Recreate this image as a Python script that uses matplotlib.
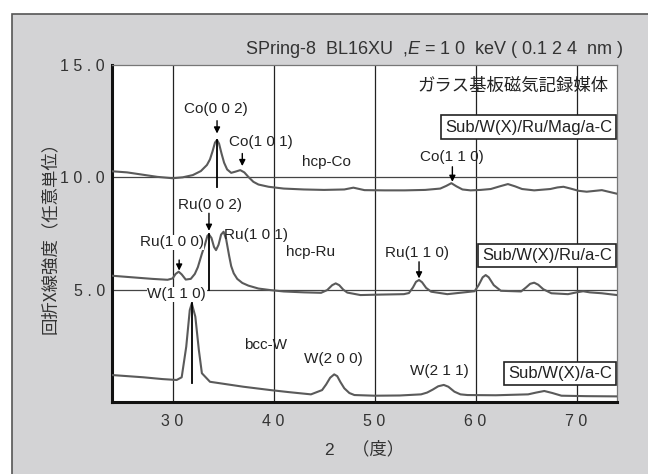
import matplotlib
matplotlib.use("Agg")
import matplotlib.pyplot as plt
from matplotlib.patches import Rectangle

plt.rcParams['font.family'] = ['Liberation Sans', 'Noto Sans CJK JP', 'DejaVu Sans']
plt.rcParams['mathtext.fontset'] = 'custom'
plt.rcParams['mathtext.it'] = 'Liberation Sans:italic'
plt.rcParams['mathtext.rm'] = 'Liberation Sans'

# --- data ---
mag_x = [24.0, 25.5, 27.0, 28.5, 30.0, 31.0, 32.0, 32.8, 33.4, 33.7, 33.95, 34.2, 34.4, 34.6,
         34.85, 35.1, 35.4, 35.8, 36.2, 36.7, 37.1, 37.5, 38.0, 38.5, 39.5, 41.0, 43.0, 45.0,
         47.0, 47.9, 49.0, 51.0, 53.0, 55.0, 56.5, 57.1, 57.6, 58.1, 58.7, 59.5, 60.5, 61.5,
         62.4, 63.2, 63.9, 64.6, 65.8, 67.4, 68.1, 68.7, 69.4, 70.2, 71.0, 72.5, 74.0]
mag_y = [10.27, 10.22, 10.12, 10.02, 9.96, 10.0, 10.1, 10.28, 10.55, 10.8, 11.15, 11.55, 11.66,
         11.5, 11.05, 10.65, 10.35, 10.2, 10.25, 10.32, 10.22, 10.02, 9.8, 9.68, 9.58, 9.5,
         9.46, 9.44, 9.46, 9.54, 9.43, 9.42, 9.42, 9.44, 9.5, 9.62, 9.74, 9.6, 9.46, 9.42, 9.44,
         9.48, 9.6, 9.7, 9.6, 9.48, 9.42, 9.48, 9.55, 9.58, 9.5, 9.4, 9.36, 9.43, 9.27]

ru_x = [24.0, 26.0, 28.0, 29.5, 30.0, 30.3, 30.6, 30.9, 31.3, 31.8, 32.2, 32.5, 32.9, 33.2,
        33.45, 33.6, 33.85, 34.1, 34.3, 34.55, 34.8, 35.05, 35.3, 35.6, 35.8, 36.05, 36.4, 36.9,
        37.5, 38.5, 39.7, 41.0, 43.0, 44.7, 45.3, 45.8, 46.15, 46.5, 46.9, 47.3, 48.6, 50.5,
        52.9, 53.4, 53.8, 54.1, 54.4, 54.7, 55.1, 55.6, 57.2, 59.9, 60.3, 60.7, 61.0, 61.3,
        61.8, 62.5, 64.5, 65.0, 65.4, 65.8, 66.2, 66.7, 67.5, 69.15, 70.0, 70.65, 71.3, 72.5,
        74.0]
ru_y = [5.62, 5.55, 5.48, 5.44, 5.5, 5.7, 5.8, 5.68, 5.45, 5.48, 5.7, 6.0, 6.6, 7.0, 7.4, 7.46,
        7.3, 6.9, 6.76, 7.0, 7.45, 7.58, 7.25, 6.5, 6.05, 5.73, 5.48, 5.3, 5.18, 5.05, 4.98,
        4.92, 4.88, 4.86, 4.98, 5.2, 5.28, 5.2, 5.0, 4.87, 4.76, 4.78, 4.8, 4.85, 5.1, 5.35,
        5.43, 5.33, 5.08, 4.91, 4.8, 4.93, 5.2, 5.55, 5.65, 5.55, 5.2, 4.95, 4.92, 5.1, 5.26,
        5.31, 5.22, 5.02, 4.84, 4.8, 4.88, 4.93, 4.88, 4.84, 4.76]

w_x = [24.0, 27.1, 29.0, 30.4, 30.9, 31.35, 31.7, 31.9, 32.25, 32.6, 32.9, 33.7, 35.5, 37.0,
       39.7, 41.5, 43.7, 44.8, 45.2, 45.6, 46.0, 46.3, 46.6, 47.0, 47.5, 48.0, 50.0, 52.5, 54.6,
       55.2, 55.75, 56.3, 56.85, 57.3, 57.9, 58.5, 59.2, 62.0, 65.2, 66.0, 66.8, 67.6, 68.5,
       71.0, 74.0]
w_y = [1.2, 1.1, 1.02, 0.98, 1.1, 2.46, 4.09, 4.39, 3.8, 2.31, 1.28, 0.9, 0.78, 0.68, 0.53,
       0.44, 0.34, 0.53, 0.78, 1.08, 1.23, 1.15, 0.9, 0.61, 0.4, 0.31, 0.28, 0.29, 0.34, 0.42,
       0.55, 0.7, 0.76, 0.68, 0.46, 0.34, 0.31, 0.3, 0.34, 0.42, 0.49, 0.4, 0.28, 0.26, 0.25]

x_ticks = [30, 40, 50, 60, 70]
x_ticklabels = ["3 0", "4 0", "5 0", "6 0", "7 0"]
y_ticks = [5, 10, 15]
y_ticklabels = ["5 . 0", "1 0 . 0", "1 5 . 0"]

# peak labels: text, x, y, arrow x, arrow top, arrow tip
peak_labels = [
    ("Co(0 0 2)", 34.3, 13.04, 34.4, 12.52, 11.95),
    ("Co(1 0 1)", 38.7, 11.56, 36.9, 11.06, 10.5),
    ("Co(1 1 0)", 57.7, 10.92, 57.7, 10.47, 9.8),
    ("Ru(0 0 2)", 33.7, 8.77, 33.6, 8.40, 7.62),
    ("Ru(1 0 0)", 29.9, 7.10, 30.65, 6.32, 5.85),
    ("Ru(1 1 0)", 54.2, 6.62, 54.4, 6.24, 5.5),
]
plain_labels = [
    ("Ru(1 0 1)", 38.3, 7.43),
    ("hcp-Co", 45.2, 10.7),
    ("hcp-Ru", 43.7, 6.69),
    ("bcc-W", 39.2, 2.54),
    ("W(2 0 0)", 45.9, 1.9),
    ("W(2 1 1)", 56.45, 1.39),
]
# vertical marker lines: x, bottom, top
marker_lines = [(34.4, 9.55, 11.66), (33.6, 5.0, 7.46), (31.9, 0.83, 4.39)]
sample_boxes = [("Sub/W(X)/Ru/Mag/a-C", 12.24), ("Sub/W(X)/Ru/a-C", 6.52), ("Sub/W(X)/a-C", 1.27)]

fig = plt.figure(figsize=(6.48, 4.74), dpi=100, facecolor='white')
fig.patches.append(Rectangle((12 / 648, -0.05), 1.1, 1.035 - 7 / 474, transform=fig.transFigure,
                             facecolor='#d3d3d5', edgecolor='#555555', lw=1.2, zorder=-10))

ax = fig.add_axes([112 / 648, 72 / 474, 505 / 648, 337 / 474])
ax.set_facecolor('white')
ax.set_xlim(24, 74)
ax.set_ylim(0, 15)

for xv in x_ticks:
    ax.axvline(xv, color='#222222', lw=0.9, zorder=1)
for yv in [5, 10]:
    ax.axhline(yv, color='#444444', lw=0.9, zorder=1)

gray = '#5a5a5a'
ax.plot(mag_x, mag_y, color=gray, lw=1.5, zorder=3)
ax.plot(ru_x, ru_y, color=gray, lw=1.5, zorder=3)
ax.plot(w_x, w_y, color=gray, lw=1.5, zorder=3)

for xv, y0, y1 in marker_lines:
    ax.plot([xv, xv], [y0, y1], color='black', lw=1.3, zorder=4)

tc = '#222222'
fs = 11
for txt, tx, ty, axx, ya, yb in peak_labels:
    bb = dict(facecolor='white', edgecolor='none', pad=0.5) if txt.startswith("Ru(1 0 0") else None
    ax.text(tx, ty, txt, ha='center', va='center', fontsize=fs, color=tc, bbox=bb, zorder=5)
    ax.annotate('', xy=(axx, yb), xytext=(axx, ya),
                arrowprops=dict(arrowstyle='-|>', color='black', lw=1.0, mutation_scale=9,
                                shrinkA=0, shrinkB=0), zorder=5)
for txt, tx, ty in plain_labels:
    ax.text(tx, ty, txt, ha='center', va='center', fontsize=fs, color=tc, zorder=5)
ax.text(30.4, 4.79, "W(1 1 0)", ha='center', va='center', fontsize=fs, color=tc, zorder=5,
        bbox=dict(facecolor='white', edgecolor='none', pad=0.5))

for txt, yv in sample_boxes:
    ax.text(73.5, yv, txt, ha='right', va='center', fontsize=12, color=tc, zorder=6,
            bbox=dict(facecolor='white', edgecolor='#222222', lw=1.2, pad=3))

ax.text(73.2, 14.06, "ガラス基板磁気記録媒体", ha='right', va='center', fontsize=12.5,
        color=tc, family=['Noto Sans CJK JP'], zorder=5)

ax.set_xticks(x_ticks)
ax.set_xticklabels(x_ticklabels)
ax.set_yticks(y_ticks)
ax.set_yticklabels(y_ticklabels)
ax.tick_params(length=0, labelsize=11.5, labelcolor='#333333')
ax.tick_params(axis='x', pad=9)
ax.tick_params(axis='y', pad=5)

for side in ['left', 'bottom']:
    ax.spines[side].set_linewidth(2.2)
    ax.spines[side].set_color('#111111')
for side in ['top', 'right']:
    ax.spines[side].set_linewidth(0.9)
    ax.spines[side].set_color('#777777')

ax.set_xlabel("2　（度）", fontsize=12.5, color='#333333', labelpad=8,
              family=['Liberation Sans', 'Noto Sans CJK JP'])
ax.set_ylabel("回折X線強度（任意単位）", fontsize=12.5, color='#333333', labelpad=1,
              family=['Noto Sans CJK JP'])

fig.text(624 / 648, 1 - 49 / 474, r"SPring-8  BL16XU  ,$\mathit{E}$ = 1 0  keV ( 0.1 2 4  nm )",
         ha='right', va='center', fontsize=13, color='#333333')

fig.savefig("out.png", dpi=100, facecolor=fig.get_facecolor())
